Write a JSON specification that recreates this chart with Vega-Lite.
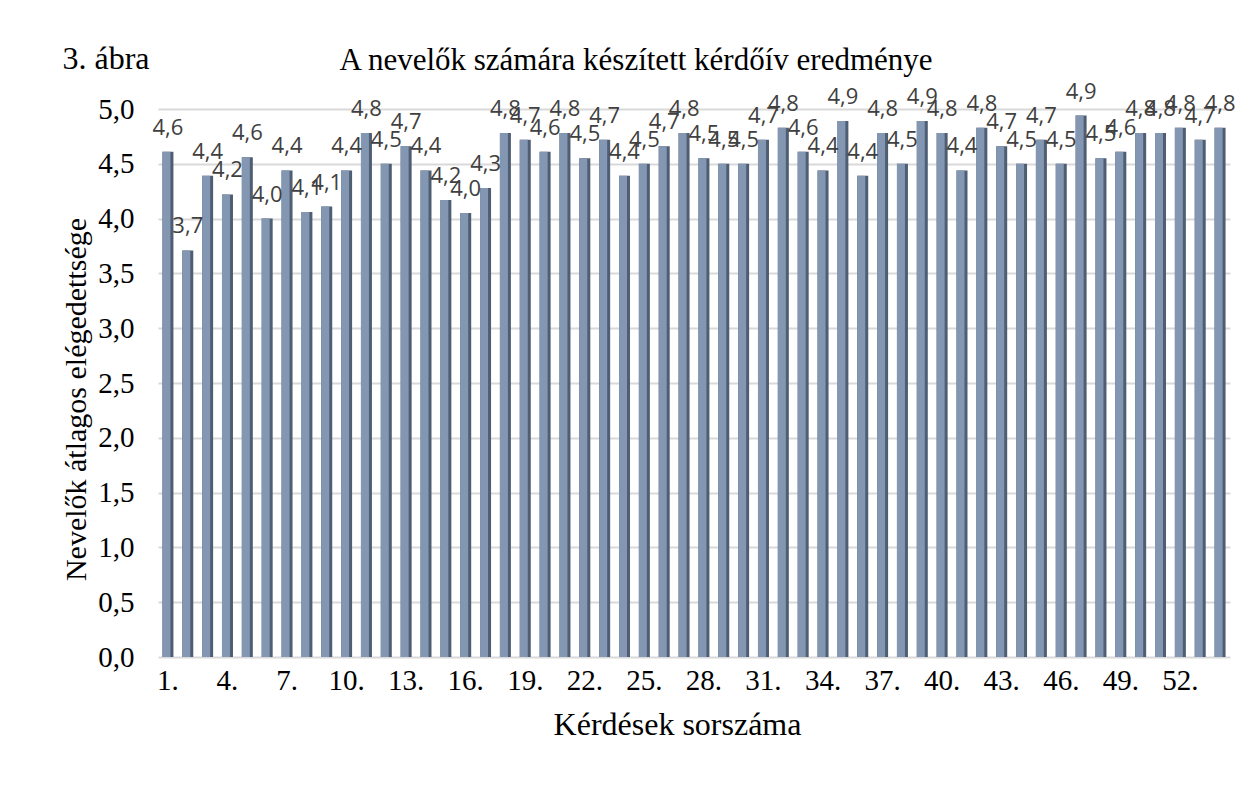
{
  "$schema": "https://vega.github.io/schema/vega-lite/v6.json",
  "width": 1072,
  "height": 548,
  "autosize": {"type": "none"},
  "padding": {"left": 158, "top": 109, "right": 30, "bottom": 132},
  "background": "white",
  "config": {
    "locale": {"number": {"decimal": ",", "thousands": " ", "grouping": [3], "currency": ["", ""]}},
    "view": {"stroke": null}
  },
  "title": {
    "text": "A nevelők számára készített kérdőív eredménye",
    "font": "Liberation Serif",
    "fontSize": 31,
    "fontWeight": "normal",
    "color": "black",
    "anchor": "middle",
    "frame": "group",
    "baseline": "alphabetic",
    "dx": -58,
    "dy": 59,
    "offset": 0
  },
  "data": {"values": [
    {"q": 1, "v": 4.61}, {"q": 2, "v": 3.71}, {"q": 3, "v": 4.39}, {"q": 4, "v": 4.22},
    {"q": 5, "v": 4.56}, {"q": 6, "v": 4.0}, {"q": 7, "v": 4.44}, {"q": 8, "v": 4.06},
    {"q": 9, "v": 4.11}, {"q": 10, "v": 4.44}, {"q": 11, "v": 4.78}, {"q": 12, "v": 4.5},
    {"q": 13, "v": 4.66}, {"q": 14, "v": 4.44}, {"q": 15, "v": 4.17}, {"q": 16, "v": 4.05},
    {"q": 17, "v": 4.28}, {"q": 18, "v": 4.78}, {"q": 19, "v": 4.72}, {"q": 20, "v": 4.61},
    {"q": 21, "v": 4.78}, {"q": 22, "v": 4.55}, {"q": 23, "v": 4.72}, {"q": 24, "v": 4.39},
    {"q": 25, "v": 4.5}, {"q": 26, "v": 4.66}, {"q": 27, "v": 4.78}, {"q": 28, "v": 4.55},
    {"q": 29, "v": 4.5}, {"q": 30, "v": 4.5}, {"q": 31, "v": 4.72}, {"q": 32, "v": 4.83},
    {"q": 33, "v": 4.61}, {"q": 34, "v": 4.44}, {"q": 35, "v": 4.89}, {"q": 36, "v": 4.39},
    {"q": 37, "v": 4.78}, {"q": 38, "v": 4.5}, {"q": 39, "v": 4.89}, {"q": 40, "v": 4.78},
    {"q": 41, "v": 4.44}, {"q": 42, "v": 4.83}, {"q": 43, "v": 4.66}, {"q": 44, "v": 4.5},
    {"q": 45, "v": 4.72}, {"q": 46, "v": 4.5}, {"q": 47, "v": 4.94}, {"q": 48, "v": 4.55},
    {"q": 49, "v": 4.61}, {"q": 50, "v": 4.78}, {"q": 51, "v": 4.78}, {"q": 52, "v": 4.83},
    {"q": 53, "v": 4.72}, {"q": 54, "v": 4.83}
  ]},
  "layer": [
    {
      "mark": {"type": "bar", "color": "#4f5e73", "size": 11},
      "encoding": {
        "x": {
          "field": "q", "type": "ordinal",
          "scale": {"paddingInner": 0.4, "paddingOuter": 0.2},
          "axis": {
            "orient": "bottom",
            "values": [1, 4, 7, 10, 13, 16, 19, 22, 25, 28, 31, 34, 37, 40, 43, 46, 49, 52],
            "labelExpr": "datum.label + '.'",
            "labelAngle": 0,
            "labelFont": "Liberation Serif",
            "labelFontSize": 29,
            "labelColor": "black",
            "labelPadding": 9,
            "ticks": false,
            "domain": false,
            "grid": false,
            "title": "Kérdések sorszáma",
            "titleFont": "Liberation Serif",
            "titleFontSize": 32,
            "titleFontWeight": "normal",
            "titleColor": "black",
            "titleX": 519,
            "titlePadding": 14
          }
        },
        "y": {
          "field": "v", "type": "quantitative",
          "scale": {"domain": [0, 5], "nice": false},
          "axis": {
            "values": [0, 0.5, 1, 1.5, 2, 2.5, 3, 3.5, 4, 4.5, 5],
            "format": ".1f",
            "labelFont": "Liberation Serif",
            "labelFontSize": 29,
            "labelColor": "black",
            "labelPadding": 24,
            "ticks": false,
            "domain": false,
            "gridColor": "#d9d9d9",
            "gridWidth": 2,
            "title": "Nevelők átlagos elégedettsége",
            "titleFont": "Liberation Serif",
            "titleFontSize": 30,
            "titleFontWeight": "normal",
            "titleColor": "black",
            "titleY": 290,
            "titlePadding": 6
          }
        }
      }
    },
    {
      "mark": {"type": "bar", "color": "#8397b2", "size": 8, "xOffset": -1.5},
      "encoding": {
        "x": {"field": "q", "type": "ordinal", "axis": null},
        "y": {"field": "v", "type": "quantitative", "axis": null}
      }
    },
    {
      "mark": {"type": "text", "font": "Open Sans", "fontSize": 22, "color": "#404040", "baseline": "alphabetic", "dy": -17},
      "encoding": {
        "text": {"field": "v", "type": "quantitative", "format": ".1f"},
        "y": {"field": "v", "type": "quantitative", "axis": null},
        "x": {
          "field": "q", "type": "ordinal",
          "axis": {
            "orient": "top",
            "labels": false,
            "ticks": false,
            "domain": false,
            "grid": false,
            "title": "3. ábra",
            "titleFont": "Liberation Serif",
            "titleFontSize": 32,
            "titleFontWeight": "normal",
            "titleColor": "black",
            "titleAnchor": "start",
            "titleAlign": "left",
            "titleBaseline": "alphabetic",
            "titleAngle": 0,
            "titleX": -96,
            "titleY": -41
          }
        }
      }
    }
  ],
  "resolve": {"axis": {"x": "independent", "y": "independent"}}
}
